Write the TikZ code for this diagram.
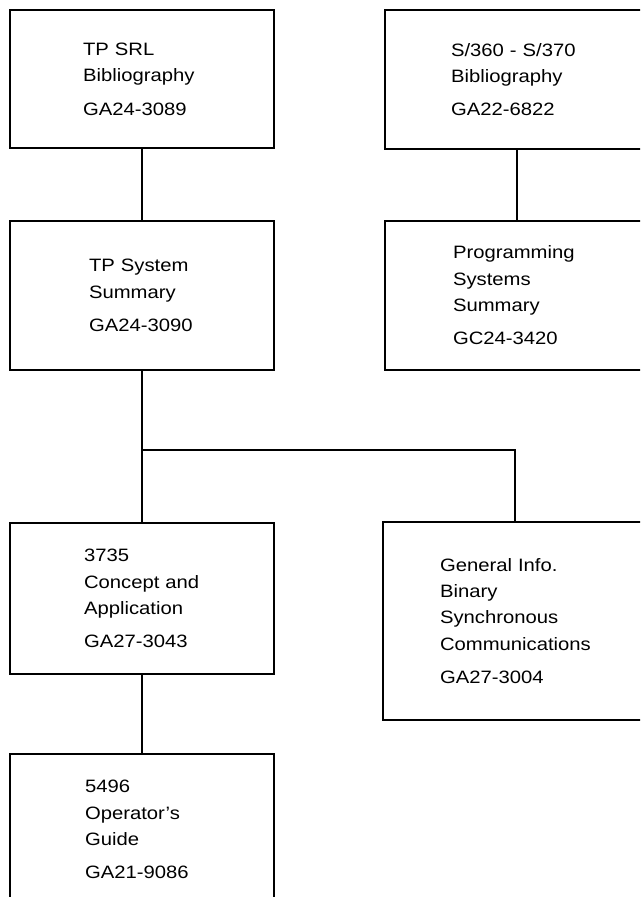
\documentclass[tikz,border=0pt]{standalone}
\usepackage{fontspec}
\setmainfont[FakeStretch=1.13]{Liberation Sans}
\usepackage{tikz}
\usetikzlibrary{calc}

\begin{document}
\begin{tikzpicture}[x=0.02cm,y=-0.02cm,line width=1.2pt,
  doc/.style={draw,anchor=north west,minimum width=5.28cm,inner sep=0pt,align=left,text width=#1,font=\fontsize{10.2}{15}\selectfont}]
\clip (0,0) rectangle (640,897);
\node[doc=2.36cm,minimum height=2.76cm] (tpsrl) at (9,9) {TP~SRL\\Bibliography\\[4pt]GA24-3089};
\node[doc=2.64cm,minimum height=2.78cm] (bib360) at (384,9) {S/360~-~S/370\\Bibliography\\[4pt]GA22-6822};
\node[doc=2.12cm,minimum height=2.98cm] (tpsum) at (9,220) {TP~System\\Summary\\[4pt]GA24-3090};
\node[doc=2.56cm,minimum height=2.98cm] (progsum) at (384,220) {Programming\\Systems\\Summary\\[4pt]GC24-3420};
\node[doc=2.32cm,minimum height=3.02cm] (c3735) at (9,522) {3735\\Concept~and\\Application\\[4pt]GA27-3043};
\node[doc=3.0cm,minimum height=3.96cm] (bsc) at (382,521) {General~Info.\\Binary\\Synchronous\\Communications\\[4pt]GA27-3004};
\node[doc=2.28cm,minimum height=3.02cm] (op5496) at (9,753) {5496\\Operator's\\Guide\\[4pt]GA21-9086};
\coordinate (fork) at (tpsum.south |- 0,450);
\draw (tpsrl) -- (tpsum);
\draw (bib360) -- (progsum);
\draw (tpsum) -- (c3735);
\draw (fork) -| (bsc);
\draw (c3735) -- (op5496);
\end{tikzpicture}
\end{document}
